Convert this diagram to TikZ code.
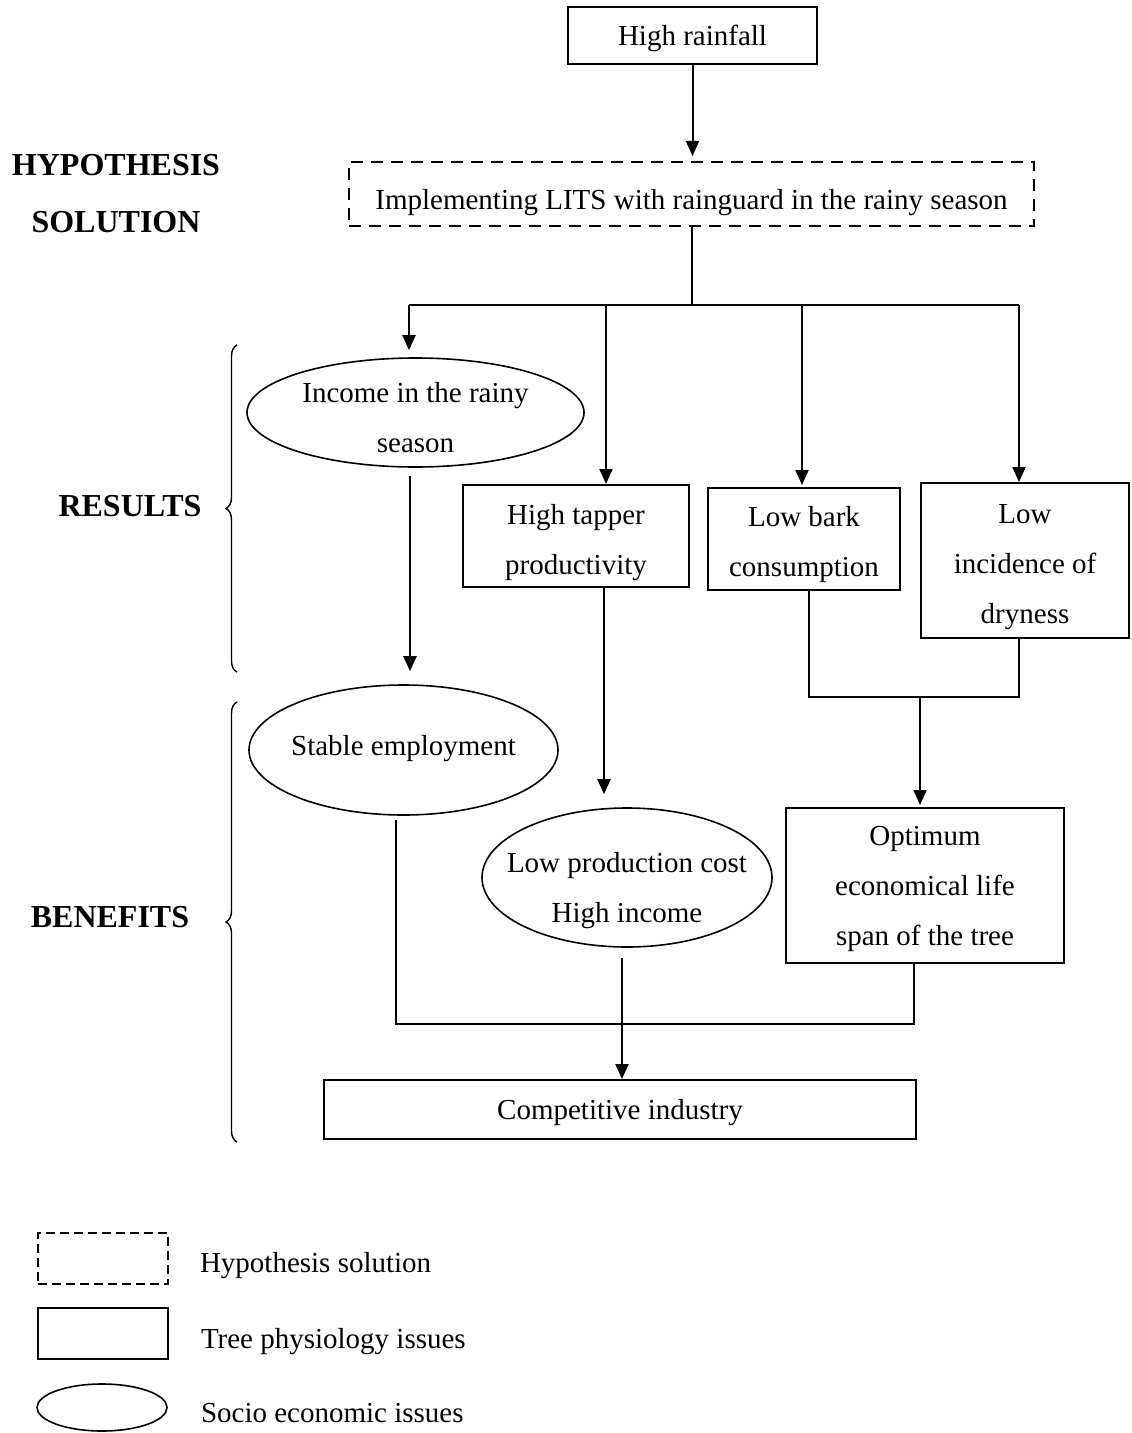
\documentclass[tikz,border=0pt]{standalone}
\usepackage{fontspec}
\setmainfont{Liberation Serif}
\usetikzlibrary{shapes.geometric, arrows.meta, positioning, decorations.pathreplacing}

% extra height on a first line, to sit the text lower in its box
\newcommand{\boxstrut}[1]{\rule{0pt}{#1}}

\begin{document}
\begin{tikzpicture}[x=0.5pt, y=-0.5pt, line width=1pt,
  box/.style={rectangle, draw, align=center, inner sep=0pt, font=\fontsize{14.5}{25}\selectfont},
  hyp/.style={box, dash pattern=on 6pt off 4pt},
  oval/.style={ellipse, draw, inner sep=0pt, line width=0.8pt},
  txt/.style={align=center, inner sep=0pt, font=\fontsize{14.5}{25}\selectfont},
  side/.style={align=center, inner sep=0pt, font=\fontsize{16}{28.5}\selectfont\bfseries},
  arr/.style={-{Triangle[length=7.5pt,width=6.5pt]}},
  curly/.style={decorate, decoration={brace, amplitude=5.5pt}, line width=0.7pt}
]
  \useasboundingbox (0,0) rectangle (1131,1433);

  % cause and hypothesis
  \node[box, minimum width=124.5pt, minimum height=28.5pt] (rain) at (692.5,35.5) {\boxstrut{13pt}High rainfall};
  \node[hyp, minimum width=342.5pt, minimum height=32pt] (lits) at (691.5,194) {\boxstrut{19pt}Implementing LITS with rainguard in the rainy season};

  % results
  \node[oval, minimum width=168.5pt, minimum height=54.5pt] (income) at (415.5,412.5) {};
  \node[txt] (income-text) at (415.5,417.5) {Income in the rainy\\season};
  \node[box, minimum width=113pt, minimum height=51pt] (tapper) at (576,536) {\boxstrut{17pt}High tapper\\productivity};
  \node[box, minimum width=96pt, minimum height=51pt] (bark) at (804,539) {\boxstrut{16pt}Low bark\\consumption};
  \node[box, minimum width=104pt, minimum height=77.5pt] (dry) at (1025,560.5) {\boxstrut{16pt}Low\\incidence of\\dryness};

  % benefits
  \node[oval, minimum width=154.5pt, minimum height=65pt] (stable) at (403.5,750) {};
  \node[txt] (stable-text) at (403.5,749) {Stable employment};
  \node[oval, minimum width=145pt, minimum height=69.5pt] (cost) at (627,877.5) {};
  \node[txt] (cost-text) at (627,890.5) {Low production cost\\High income};
  \node[box, minimum width=139pt, minimum height=77.5pt] (optimum) at (925,885.5) {\boxstrut{13pt}Optimum\\economical life\\span of the tree};
  \node[box, minimum width=296pt, minimum height=29.5pt] (industry) at (620,1109.5) {\boxstrut{13pt}Competitive industry};

  % labels on the left
  \node[side] (hyp-label) at (116,194) {HYPOTHESIS\\SOLUTION};
  \node[side] (res-label) at (130,506.5) {RESULTS};
  \node[side] (ben-label) at (110,917.5) {BENEFITS};
  \draw[curly] (237,672) -- (237,345);
  \draw[curly] (237,1142) -- (237,702);

  % connectors
  \draw[arr, shorten >=2.5pt] (rain.south) -- (rain.south |- lits.north);
  \path (lits.south) ++(0,79) coordinate (hub);
  \coordinate (split-l) at (409,305);
  \coordinate (split-r) at (1019,305);
  \coordinate (to-tapper) at (606,305);
  \coordinate (to-bark) at (802,305);
  \draw (lits.south) -- (hub);
  \draw (split-l) -- (split-r);
  \draw[arr, shorten >=3.5pt] (split-l) -- (split-l |- income.north);
  \draw[arr] (to-tapper) -- (to-tapper |- tapper.north);
  \draw[arr, shorten >=1pt] (to-bark) -- (to-bark |- bark.north);
  \draw[arr] (split-r) -- (split-r |- dry.north);

  \draw[arr, shorten <=4pt, shorten >=6.5pt] ([xshift=-2.75pt]income.south) -- ([xshift=3.25pt]stable.north);
  \draw[arr, shorten >=6.5pt] ([xshift=14pt]tapper.south) -- ([xshift=-11.5pt]cost.north);

  \coordinate (join) at (920,697);
  \draw ([xshift=2.5pt]bark.south) |- (join) -| ([xshift=-3pt]dry.south);
  \draw[arr, shorten >=1pt] (join) -- (join |- optimum.north);

  \coordinate (meet) at (622,1024);
  \draw[shorten <=2pt] ([xshift=-3.75pt]stable.south) |- (meet) -| ([xshift=-5.5pt]optimum.south);
  \draw[arr, shorten <=5pt] ([xshift=-2.5pt]cost.south) -- ([xshift=1pt]industry.north);

  % key
  \node[hyp, minimum width=65pt, minimum height=25.5pt, dash pattern=on 4.5pt off 2.5pt] (key-hyp) at (103,1258.5) {};
  \node[txt, anchor=base west] (key-hyp-text) at (199,1272) {Hypothesis solution};
  \node[box, minimum width=65pt, minimum height=25.5pt] (key-tree) at (103,1333.5) {};
  \node[txt, anchor=base west] (key-tree-text) at (200,1348) {Tree physiology issues};
  \node[oval, minimum width=65pt, minimum height=23.5pt] (key-socio) at (102,1407.5) {};
  \node[txt, anchor=base west] (key-socio-text) at (200,1422) {Socio economic issues};
\end{tikzpicture}
\end{document}
